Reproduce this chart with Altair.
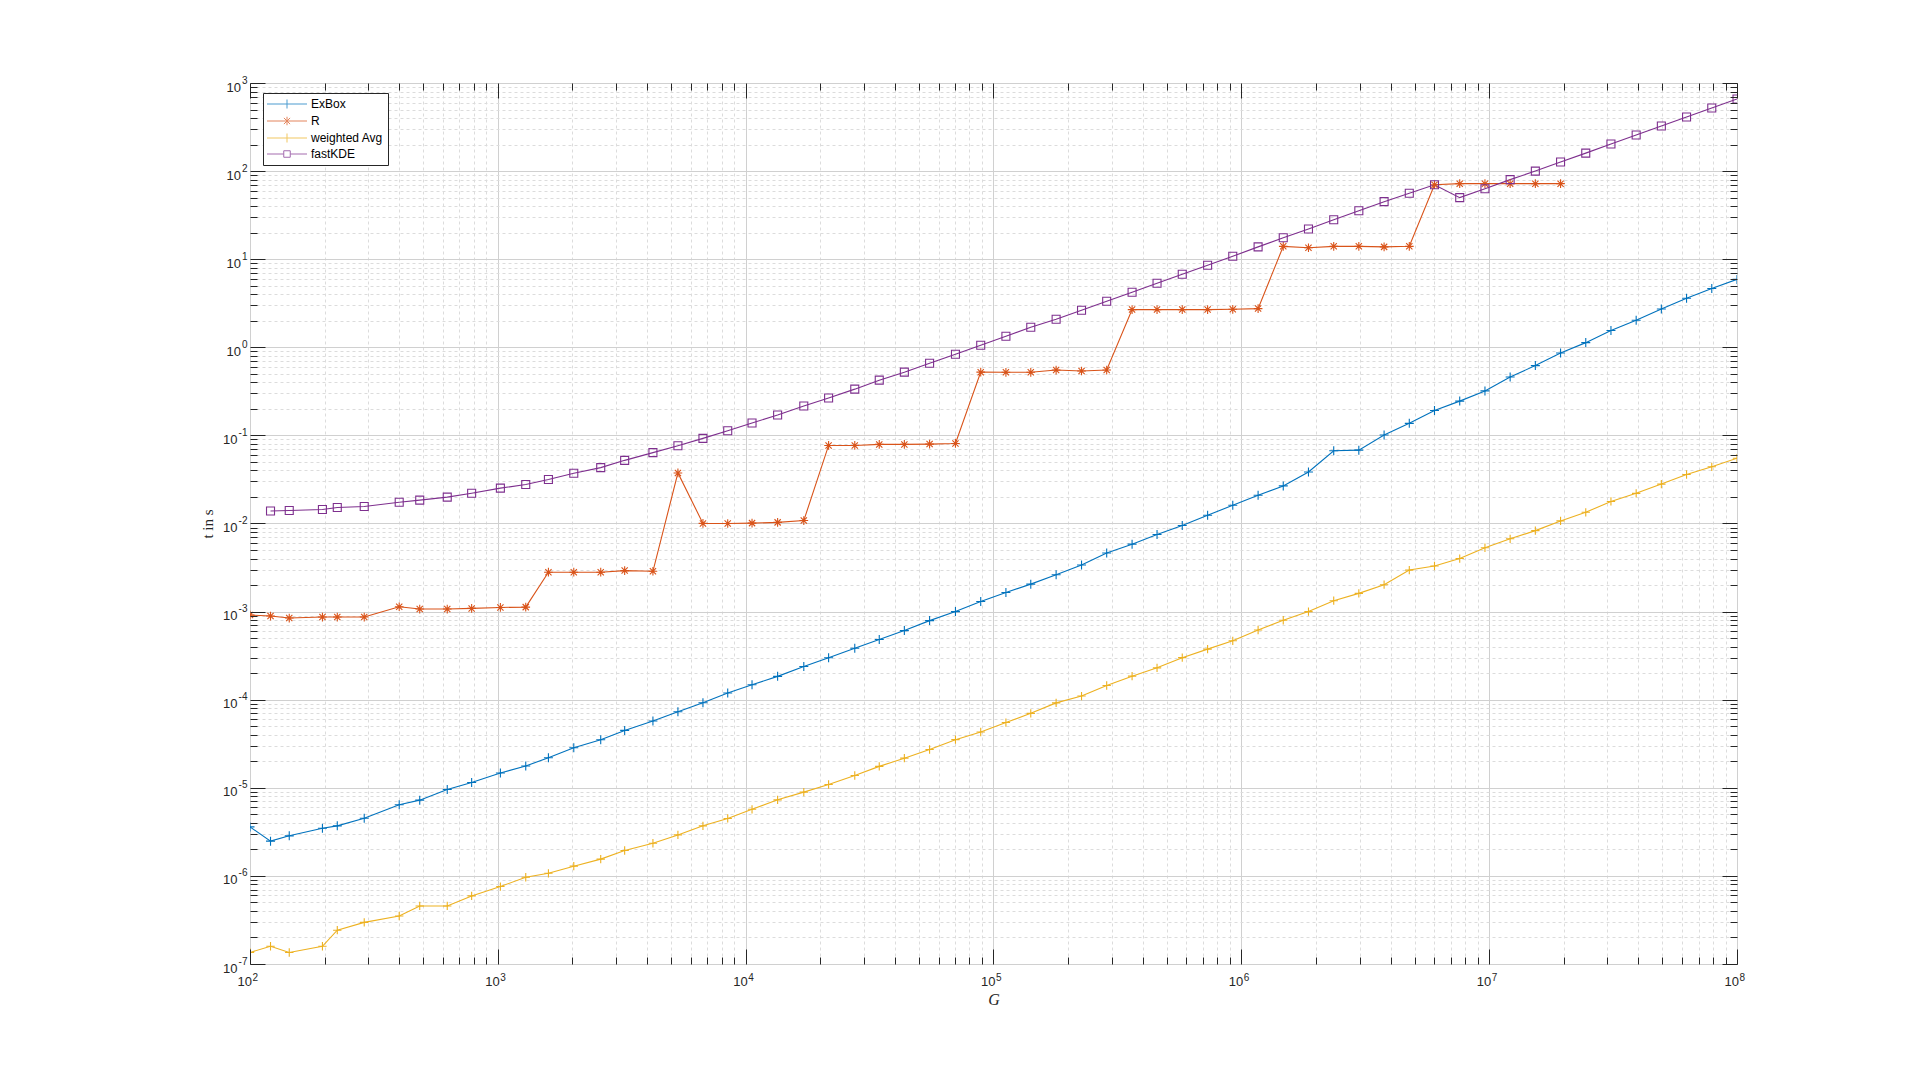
import altair as alt
import pandas as pd

# ---------------- data ----------------
G = [100, 121, 144, 196, 225, 289, 400, 484, 625, 784,
     1024, 1296, 1600, 2025, 2601, 3249, 4225, 5329, 6724, 8464,
     10609, 13456, 17161, 21609, 27556, 34596, 43681, 55225, 70225, 88804,
     112225, 141376, 178929, 226576, 286225, 362404, 456976, 577600, 731025, 923521,
     1168561, 1476225, 1865956, 2359296, 2979076, 3767481, 4761124, 6017209, 7606564, 9616201,
     12152196, 15358561, 19412836, 24532209, 31002624, 39187600, 49519369, 62583921, 79103236, 100000000]

exbox = [3.6e-6, 2.48e-6, 2.85e-6, 3.48e-6, 3.70e-6, 4.52e-6, 6.41e-6, 7.24e-6, 9.57e-6, 1.15e-5,
         1.47e-5, 1.77e-5, 2.19e-5, 2.85e-5, 3.51e-5, 4.48e-5, 5.73e-5, 7.31e-5, 9.24e-5, 1.19e-4,
         1.48e-4, 1.84e-4, 2.38e-4, 2.99e-4, 3.84e-4, 4.82e-4, 6.09e-4, 7.9e-4, 1.0e-3, 1.30e-3,
         1.65e-3, 2.05e-3, 2.62e-3, 3.38e-3, 4.62e-3, 5.83e-3, 7.5e-3, 9.49e-3, 0.0124, 0.0161,
         0.0209, 0.0267, 0.0384, 0.067, 0.068, 0.101, 0.137, 0.192, 0.245, 0.32,
         0.46, 0.62, 0.86, 1.13, 1.55, 2.03, 2.72, 3.6, 4.65, 5.9]

r_vals = [9.14e-4, 8.9e-4, 8.45e-4, 8.67e-4, 8.67e-4, 8.67e-4, 1.135e-3, 1.069e-3, 1.069e-3, 1.087e-3,
          1.115e-3, 1.124e-3, 2.80e-3, 2.80e-3, 2.80e-3, 2.92e-3, 2.87e-3, 0.0375, 0.01002, 0.0100,
          0.0101, 0.0103, 0.0108, 0.0769, 0.0769, 0.079, 0.079, 0.0797, 0.081, 0.522,
          0.52, 0.52, 0.552, 0.538, 0.552, 2.68, 2.68, 2.68, 2.68, 2.70,
          2.75, 14.0, 13.5, 14.0, 14.0, 13.8, 14.0, 70.0, 72.0, 72.0,
          72.0, 72.0, 72.0]

wavg = [1.35e-7, 1.59e-7, 1.35e-7, 1.59e-7, 2.42e-7, 2.97e-7, 3.51e-7, 4.56e-7, 4.56e-7, 5.93e-7,
        7.57e-7, 9.66e-7, 1.07e-6, 1.29e-6, 1.55e-6, 1.94e-6, 2.35e-6, 2.92e-6, 3.70e-6, 4.49e-6,
        5.7e-6, 7.3e-6, 8.93e-6, 1.09e-5, 1.38e-5, 1.75e-5, 2.17e-5, 2.72e-5, 3.52e-5, 4.30e-5,
        5.5e-5, 7.0e-5, 9.2e-5, 1.1e-4, 1.45e-4, 1.85e-4, 2.3e-4, 3.0e-4, 3.75e-4, 4.66e-4,
        6.19e-4, 7.97e-4, 1.0e-3, 1.33e-3, 1.61e-3, 2.02e-3, 2.96e-3, 3.29e-3, 4.0e-3, 5.3e-3,
        6.7e-3, 8.3e-3, 0.0107, 0.0134, 0.0178, 0.022, 0.028, 0.036, 0.044, 0.055]

fastkde = [0.01384, 0.01406, 0.01442, 0.0152, 0.0156, 0.01746, 0.01841, 0.01991, 0.02209,
           0.02518, 0.02768, 0.03155, 0.03717, 0.04306, 0.0521, 0.0637, 0.0764, 0.0925, 0.1129,
           0.1384, 0.1706, 0.2155, 0.2653, 0.335, 0.4236, 0.522, 0.659, 0.833, 1.054,
           1.334, 1.686, 2.08, 2.63, 3.33, 4.22, 5.34, 6.76, 8.55, 10.8,
           13.8, 17.5, 22.0, 28.0, 35.5, 45.0, 56.0, 70.0, 50.0, 63.0,
           80.0, 100.0, 127.0, 160.0, 203.0, 257.0, 325.0, 412.0, 521.0, 658.0]

SERIES = ["ExBox", "R", "weighted Avg", "fastKDE"]
COLORS = ["#0072BD", "#D95319", "#EDB120", "#7E2F8E"]

rows = []
rows += [("ExBox", g, t) for g, t in zip(G, exbox)]
rows += [("R", g, t) for g, t in zip(G[:len(r_vals)], r_vals)]
rows += [("weighted Avg", g, t) for g, t in zip(G, wavg)]
rows += [("fastKDE", g, t) for g, t in zip(G[1:], fastkde)]
df = pd.DataFrame(rows, columns=["series", "G", "t"])

# ---------------- styling ----------------
W, H = 1487, 881
INK = "#262626"
MAJ = "abs(log(datum.value)/LN10 - round(log(datum.value)/LN10)) < 1e-6"
EXP = "round(log(datum.value)/LN10)"
TEN = f"({MAJ}) ? '10' : ''"
EXPSTR = f"({MAJ}) ? ('' + {EXP}) : ''"

xvals = [m * 10 ** k for k in range(2, 8) for m in range(1, 10)] + [10 ** 8]
yvals = [float(f"{m}e{k}") for k in range(-7, 3) for m in range(1, 10)] + [1000.0]

xs = alt.Scale(type="log", domain=[1e2, 1e8], nice=False)
ys = alt.Scale(type="log", domain=[1e-7, 1e3], nice=False)
cs = alt.Scale(domain=SERIES, range=COLORS)

PLUS = "M0,-1L0,1M-1,0L1,0"
STAR = "M0,-1L0,1M-1,0L1,0M-0.72,-0.72L0.72,0.72M-0.72,0.72L0.72,-0.72"
SQUARE = "M-1,-1L1,-1L1,1L-1,1Z"
L_PLUS = "M-4,0L4,0M0,-0.9L0,0.9"
L_STAR = "M-4,0L4,0M0,-0.85L0,0.85M-0.62,-0.62L0.62,0.62M-0.62,0.62L0.62,-0.62"
L_SQ = "M-4,0L-0.65,0M0.65,0L4,0M-0.65,-0.65L0.65,-0.65L0.65,0.65L-0.65,0.65Z"

grid_color = {"condition": {"test": MAJ, "value": "#d0d0d0"}, "value": "#dcdcdc"}
grid_dash = {"condition": {"test": MAJ, "value": []}, "value": [3, 3]}
tick_size = {"condition": {"test": MAJ, "value": 15}, "value": 7}

LBL_FONT = "Liberation Sans"

ax_x_main = alt.Axis(orient="bottom", values=xvals, labelExpr=TEN, ticks=False, domain=False,
                     grid=True, gridColor=grid_color, gridDash=grid_dash, gridWidth=1,
                     labelFont=LBL_FONT, labelFontSize=13, labelColor=INK, labelPadding=11,
                     labelAlign="right", labelOffset=1.5,
                     labelOverlap=False, labelFlush=False,
                     title="G", titleFont="Liberation Serif", titleFontStyle="italic",
                     titleFontWeight="normal", titleFontSize=16, titleColor=INK, titlePadding=3)
ax_y_main = alt.Axis(orient="left", values=yvals, labelExpr=TEN, ticks=False, domain=False,
                     grid=True, gridColor=grid_color, gridDash=grid_dash, gridWidth=1,
                     labelFont=LBL_FONT, labelFontSize=13, labelColor=INK,
                     labelPadding={"condition": {"test": "datum.value < 1", "value": 13}, "value": 9.5},
                     labelOffset=4,
                     labelOverlap=False, labelFlush=False, labelBaseline="middle",
                     title="t in s", titleFont="Liberation Serif",
                     titleFontWeight="normal", titleFontSize=15, titleColor=INK,
                     titleX=-43, titleBaseline="middle")

ax_x_exp = alt.Axis(orient="bottom", values=xvals, labelExpr=EXPSTR, ticks=False, domain=False, grid=False,
                    labelFont=LBL_FONT, labelFontSize=10, labelColor=INK, labelPadding=8,
                    labelAlign="left", labelOffset=2, labelOverlap=False, labelFlush=False, title=None)
ax_y_exp = alt.Axis(orient="left", values=yvals, labelExpr=EXPSTR, ticks=False, domain=False, grid=False,
                    labelFont=LBL_FONT, labelFontSize=10, labelColor=INK, labelPadding=3,
                    labelOffset=-3, labelBaseline="middle", labelOverlap=False, labelFlush=False, title=None)


def tick_axis(orient, off, vals):
    return alt.Axis(orient=orient, offset=off, values=vals, labels=False, grid=False, domain=False,
                    ticks=True, tickColor=INK, tickWidth=1, tickSize=tick_size, title=None, zindex=1)


lines = alt.Chart(df).mark_line(strokeWidth=1.1, clip=True).encode(
    x=alt.X("G:Q", scale=xs, axis=ax_x_main),
    y=alt.Y("t:Q", scale=ys, axis=ax_y_main),
    color=alt.Color("series:N", scale=cs, legend=None),
)

points = alt.Chart(df).mark_point(filled=False, strokeWidth=1.1, opacity=1, clip=True).encode(
    x=alt.X("G:Q", scale=xs, axis=tick_axis("top", -H, xvals)),
    y=alt.Y("t:Q", scale=ys, axis=tick_axis("right", -W, yvals)),
    color=alt.Color("series:N", scale=cs, legend=None),
    shape=alt.Shape("series:N", scale=alt.Scale(domain=SERIES, range=[PLUS, STAR, PLUS, SQUARE]), legend=None),
    size=alt.Size("series:N", scale=alt.Scale(domain=SERIES, range=[81, 64, 81, 42]), legend=None),
)

legend_layer = alt.Chart(df).transform_filter("false").mark_point(filled=False, strokeWidth=1).encode(
    x=alt.X("G:Q", scale=xs, axis=tick_axis("bottom", -H, xvals)),
    y=alt.Y("t:Q", scale=ys, axis=tick_axis("left", -W, yvals)),
    color=alt.Color("series:N", scale=cs, legend=alt.Legend(title=None)),
    shape=alt.Shape("series:N", scale=alt.Scale(domain=SERIES, range=[L_PLUS, L_STAR, L_PLUS, L_SQ]),
                    legend=alt.Legend(title=None)),
)

exp_layer = alt.Chart(df).transform_filter("false").mark_point().encode(
    x=alt.X("G:Q", scale=xs, axis=ax_x_exp),
    y=alt.Y("t:Q", scale=ys, axis=ax_y_exp),
)

chart = (
    alt.layer(lines, points, legend_layer, exp_layer)
    .resolve_scale(color="independent", shape="independent")
    .resolve_axis(x="independent", y="independent")
    .properties(width=W, height=H, autosize=alt.AutoSizeParams(type="none"),
                padding={"left": 242, "top": 75, "right": 175, "bottom": 110},
                background="white")
    .configure_view(stroke=INK, strokeWidth=1)
    .configure_legend(orient="none", legendX=13, legendY=10, strokeColor=INK, fillColor="white",
                      padding=5, cornerRadius=0, labelFont=LBL_FONT, labelFontSize=12, labelColor="black",
                      symbolSize=100, symbolStrokeWidth=1, symbolOffset=13, labelOffset=18,
                      rowPadding=3, labelLimit=300)
)

chart.save("out.html", embed_options={"renderer": "svg", "actions": False})
